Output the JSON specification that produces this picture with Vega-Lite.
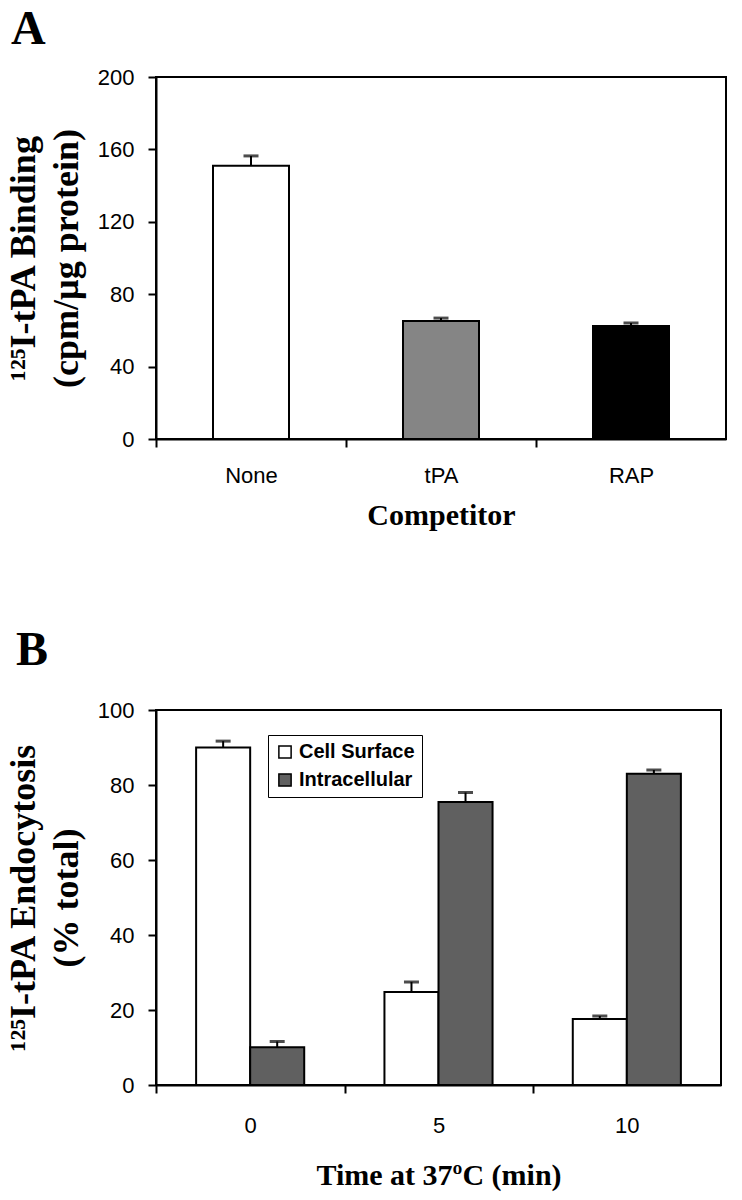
{
  "$schema": "https://vega.github.io/schema/vega-lite/v6.json",
  "background": "white",
  "padding": {"left": 4, "top": 5, "right": 5, "bottom": 5},
  "spacing": 95,
  "resolve": {"scale": {"fill": "independent"}, "legend": {"fill": "independent"}},
  "config": {
    "view": {"stroke": "black", "strokeWidth": 2},
    "axis": {
      "domainColor": "black", "domainWidth": 2,
      "tickColor": "black", "tickWidth": 2, "tickSize": 8,
      "grid": false,
      "labelFont": "Liberation Sans", "labelFontSize": 22, "labelColor": "black",
      "titleFont": "Liberation Serif", "titleFontWeight": "bold", "titleColor": "black"
    },
    "title": {"font": "Liberation Serif", "fontWeight": "bold", "fontSize": 48, "color": "black", "anchor": "start", "frame": "group"}
  },
  "vconcat": [
    {
      "width": 570,
      "height": 362,
      "title": {"text": "A", "dx": -145, "offset": 12},
      "data": {"values": [
        {"competitor": "None", "binding": 151, "upper": 156.4},
        {"competitor": "tPA", "binding": 65.2, "upper": 66.8},
        {"competitor": "RAP", "binding": 62.4, "upper": 64.1}
      ]},
      "encoding": {
        "x": {
          "field": "competitor", "type": "nominal", "sort": ["None", "tPA", "RAP"],
          "scale": {"paddingInner": 0.6, "paddingOuter": 0.3},
          "axis": {"title": "Competitor", "labelAngle": 0, "tickOffset": -95, "labelOffset": 95, "labelPadding": 18, "titleFontSize": 30, "titlePadding": 14}
        },
        "y": {
          "field": "binding", "type": "quantitative",
          "scale": {"domain": [0, 200]},
          "axis": {"title": ["¹²⁵I-tPA Binding", "(cpm/µg protein)"], "values": [0, 40, 80, 120, 160, 200], "titleFontSize": 36, "titleLineHeight": 43, "titlePadding": 12, "labelPadding": 14}
        }
      },
      "layer": [
        {
          "mark": {"type": "bar", "stroke": "black", "strokeWidth": 2},
          "encoding": {
            "fill": {"field": "competitor", "type": "nominal", "scale": {"domain": ["None", "tPA", "RAP"], "range": ["white", "#858585", "black"]}, "legend": null}
          }
        },
        {
          "mark": {"type": "rule", "color": "black", "strokeWidth": 2},
          "encoding": {"y2": {"field": "upper"}}
        },
        {
          "mark": {"type": "tick", "color": "black", "thickness": 3, "size": 15},
          "encoding": {"y": {"field": "upper", "type": "quantitative", "title": ["¹²⁵I-tPA Binding", "(cpm/µg protein)"]}}
        }
      ]
    },
    {
      "width": 565,
      "height": 375,
      "title": {"text": "B", "dx": -140, "offset": 24},
      "data": {"values": [
        {"time": "0", "series": "Cell Surface", "pct": 90, "upper": 91.7},
        {"time": "0", "series": "Intracellular", "pct": 10.1, "upper": 11.6},
        {"time": "5", "series": "Cell Surface", "pct": 24.8, "upper": 27.5},
        {"time": "5", "series": "Intracellular", "pct": 75.5, "upper": 78},
        {"time": "10", "series": "Cell Surface", "pct": 17.6, "upper": 18.4},
        {"time": "10", "series": "Intracellular", "pct": 83, "upper": 84}
      ]},
      "encoding": {
        "x": {
          "field": "time", "type": "ordinal", "sort": ["0", "5", "10"],
          "scale": {"paddingInner": 0.426, "paddingOuter": 0.213},
          "axis": {"title": "Time at 37ºC (min)", "labelAngle": 0, "tickOffset": -94, "labelOffset": 94, "labelPadding": 22, "titleFontSize": 30, "titlePadding": 24}
        },
        "xOffset": {"field": "series", "type": "nominal", "sort": ["Cell Surface", "Intracellular"], "scale": {"paddingInner": 0, "paddingOuter": 0}},
        "y": {
          "field": "pct", "type": "quantitative",
          "scale": {"domain": [0, 100]},
          "axis": {"title": ["¹²⁵I-tPA Endocytosis", "(% total)"], "values": [0, 20, 40, 60, 80, 100], "titleFontSize": 36, "titleLineHeight": 43, "titlePadding": 12, "labelPadding": 14}
        }
      },
      "layer": [
        {
          "mark": {"type": "bar", "stroke": "black", "strokeWidth": 2},
          "encoding": {
            "fill": {
              "field": "series", "type": "nominal",
              "scale": {"domain": ["Cell Surface", "Intracellular"], "range": ["white", "#606060"]},
              "legend": {
                "title": null, "orient": "none", "legendX": 112, "legendY": 25,
                "labelFont": "Liberation Sans", "labelFontWeight": "bold", "labelFontSize": 20, "labelColor": "black",
                "symbolType": "square", "symbolSize": 150, "symbolStrokeColor": "black", "symbolStrokeWidth": 1.5,
                "strokeColor": "black", "fillColor": "white", "padding": 7, "rowPadding": 8, "labelOffset": 4
              }
            }
          }
        },
        {
          "mark": {"type": "rule", "color": "black", "strokeWidth": 2},
          "encoding": {"y2": {"field": "upper"}}
        },
        {
          "mark": {"type": "tick", "color": "black", "thickness": 3, "size": 15},
          "encoding": {"y": {"field": "upper", "type": "quantitative", "title": ["¹²⁵I-tPA Endocytosis", "(% total)"]}}
        }
      ]
    }
  ]
}
